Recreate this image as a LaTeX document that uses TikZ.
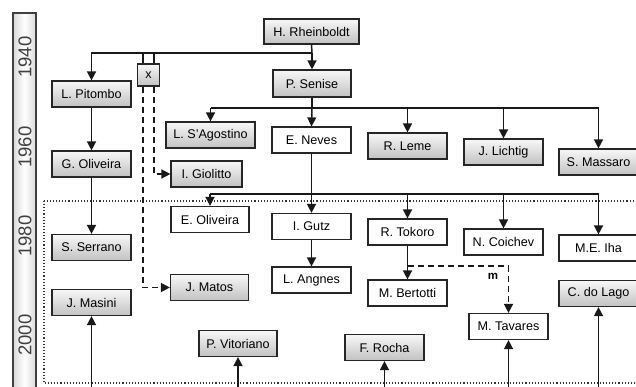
\documentclass[tikz,border=0pt]{standalone}
\usepackage{fontspec}
\setmainfont{Liberation Sans}
\usetikzlibrary{arrows.meta,shadings}
\begin{document}
\begin{tikzpicture}[x=1pt,y=-1pt,
  box/.style={draw=black!85,line width=1.2pt,minimum height=26pt,minimum width=79pt,inner sep=0pt,
    font=\fontsize{12.6}{14}\selectfont,text=black},
  gbox/.style={box,top color=gray!6,bottom color=gray!48},
  wbox/.style={box,fill=white},
  con/.style={line width=1.5pt,draw=black!90},
  arr/.style={con,-{Triangle[length=9pt,width=9pt]}},
  darr/.style={arr,dash pattern=on 6pt off 4pt},
  dcon/.style={con,dash pattern=on 6pt off 4pt},
  yr/.style={rotate=90,font=\fontsize{18.5}{20}\selectfont,text=black!75},
]
\useasboundingbox (0,0) rectangle (636,386);
% timeline bar
\shade[left color=gray!30,right color=gray!30,middle color=white] (13,13) rectangle (36,392);
\draw[black!75,line width=1.1pt] (13,392) -- (13,13) -- (36,13) -- (36,392);
\node[yr] (y40) at (25,57) {1940};
\node[yr] (y60) at (25,147) {1960};
\node[yr] (y80) at (25,236) {1980};
\node[yr] (y00) at (25,335) {2000};
% dotted region
\draw[black!80,line width=1.1pt,dotted] (44,201) rectangle (642,383);
% nodes
\node[gbox,minimum width=95pt,minimum height=25pt] (rh) at (311.5,31.5) {H. Rheinboldt};
\node[gbox] (pit) at (91.5,94) {L. Pitombo};
\node[gbox,minimum width=22pt,minimum height=22pt] (xb) at (148.5,75) {x};
\node[gbox,minimum width=78pt,minimum height=27pt] (sen) at (312,83.5) {P. Senise};
\node[gbox,minimum width=89pt] (sag) at (210.5,135) {L. S'Agostino};
\node[wbox] (nev) at (311.5,140) {E. Neves};
\node[gbox] (lem) at (407.5,146) {R. Leme};
\node[gbox] (lic) at (503.5,152) {J. Lichtig};
\node[gbox] (mas) at (598.5,162) {S. Massaro};
\node[gbox] (gol) at (91.5,164) {G. Oliveira};
\node[gbox,minimum width=71pt] (gio) at (206.5,174) {I. Giolitto};
\node[wbox,minimum width=78pt] (eol) at (210,219.5) {E. Oliveira};
\node[wbox] (gut) at (311.5,226.5) {I. Gutz};
\node[wbox] (ang) at (311.5,280) {L. Angnes};
\node[wbox] (tok) at (407.5,232) {R. Tokoro};
\node[wbox] (coi) at (503.5,242) {N. Coichev};
\node[wbox] (iha) at (598.5,248) {M.E. Iha};
\node[wbox] (ber) at (407.5,293) {M. Bertotti};
\node[wbox] (tav) at (508.5,326.5) {M. Tavares};
\node[gbox] (lag) at (598.5,293.5) {C. do Lago};
\node[gbox] (roc) at (384.5,347.5) {F. Rocha};
\node[gbox,minimum width=78pt] (vit) at (238,343.5) {P. Vitoriano};
\node[gbox] (msn) at (91.5,302.5) {J. Masini};
\node[gbox] (ser) at (91.5,247.5) {S. Serrano};
\node[gbox,minimum width=78pt] (mat) at (209.5,287.5) {J. Matos};
% junction coordinates
\coordinate (j1) at (312,53);
\coordinate (j2) at (312,108);
\coordinate (j3) at (312,194);
\coordinate (jm) at (408,266);
\coordinate (xt1) at (143,53);
\coordinate (xt2) at (154,53);
% top level
\draw[con] (rh.south) -- (j1);
\draw[arr] (j1) -- (sen.north);
\draw[arr] (j1) -| (pit.north);
\draw[con] (xt1) -- (xb.north -| xt1);
\draw[con] (xt2) -- (xb.north -| xt2);
\draw[darr] (xb.south -| xt2) |- (gio.west);
\draw[darr] (xb.south -| xt1) |- (mat.west);
% Senise children
\draw[con] (sen.south) -- (j2);
\draw[con] (sag.north |- j2) -- (mas.north |- j2);
\draw[arr] (j2) -- (nev.north);
\draw[arr] (sag.north |- j2) -- (sag.north);
\draw[arr] (lem.north |- j2) -- (lem.north);
\draw[arr] (lic.north |- j2) -- (lic.north);
\draw[arr] (mas.north |- j2) -- (mas.north);
% Neves children
\draw[arr] (nev.south) -- (gut.north);
\draw[con] (eol.north |- j3) -- (iha.north |- j3);
\draw[arr] (eol.north |- j3) -- (eol.north);
\draw[arr] (tok.north |- j3) -- (tok.north);
\draw[arr] (coi.north |- j3) -- (coi.north);
\draw[arr] (iha.north |- j3) -- (iha.north);
% chains
\draw[arr] (pit.south) -- (gol.north);
\draw[arr] (gol.south) -- (ser.north);
\draw[arr] (gut.south) -- (ang.north);
\draw[arr] (tok.south) -- (ber.north);
% m link
\draw[dcon] (jm) -- (tav.north |- jm);
\draw[darr] (tav.north |- jm) -- (tav.north);
\node[font=\bfseries\fontsize{11.5}{12}\selectfont,text=black] (ml) at (493,276) {m};
% from below
\coordinate (b1) at (91.5,392);
\coordinate (b2) at (238,392);
\coordinate (b3) at (384.5,392);
\coordinate (b4) at (508.5,392);
\coordinate (b5) at (598.5,392);
\draw[arr] (b1) -- (msn.south);
\draw[arr] (b2) -- (vit.south);
\draw[arr] (b3) -- (roc.south);
\draw[arr] (b4) -- (tav.south);
\draw[arr] (b5) -- (lag.south);
\end{tikzpicture}
\end{document}
